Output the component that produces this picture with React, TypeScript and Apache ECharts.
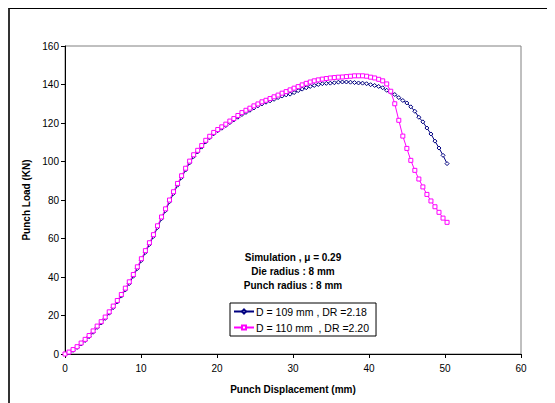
import React, { useEffect, useRef } from "react";
import * as echarts from "echarts";

const xValues = [
  0.0, 0.53, 1.06, 1.59, 2.12, 2.65, 3.17, 3.7, 4.23, 4.76, 5.29, 5.82, 6.35, 6.88, 7.41, 7.94,
  8.46, 8.99, 9.52, 10.05, 10.58, 11.11, 11.64, 12.17, 12.7, 13.23, 13.75, 14.28, 14.81, 15.34,
  15.87, 16.4, 16.93, 17.46, 17.99, 18.52, 19.04, 19.57, 20.1, 20.63, 21.16, 21.69, 22.22, 22.75,
  23.28, 23.81, 24.33, 24.86, 25.39, 25.92, 26.45, 26.98, 27.51, 28.04, 28.57, 29.1, 29.62, 30.15,
  30.68, 31.21, 31.74, 32.27, 32.8, 33.33, 33.86, 34.39, 34.91, 35.44, 35.97, 36.5, 37.03, 37.56,
  38.09, 38.62, 39.15, 39.68, 40.21, 40.74, 41.27, 41.8, 42.33, 42.86, 43.39, 43.92, 44.45, 44.98,
  45.5, 46.03, 46.56, 47.09, 47.62, 48.15, 48.68, 49.21, 49.74, 50.27,
];

const load109 = [
  0, 0.6, 1.9, 3.4, 5.2, 7.0, 9.0, 11.3, 13.8, 16.1, 18.5, 21.2, 24.1, 27.0, 30.1, 33.3, 36.6,
  40.4, 44.4, 48.6, 52.8, 56.9, 61.1, 65.7, 70.3, 74.5, 79.1, 83.4, 87.7, 91.7, 95.6, 99.3, 102.6,
  105.0, 107.5, 110.2, 112.4, 114.4, 116.0, 117.3, 118.7, 120.2, 121.6, 123.0, 124.4, 125.5, 126.6,
  127.8, 128.9, 129.9, 130.8, 131.5, 132.3, 133.2, 134.0, 134.6, 135.0, 135.8, 136.8, 137.6, 138.3,
  139.0, 139.5, 140.0, 140.4, 140.6, 140.7, 140.9, 141.2, 141.3, 141.3, 141.2, 141.0, 140.8, 140.7,
  140.4, 139.9, 139.5, 139.0, 138.3, 137.0, 136.0, 134.8, 133.2, 131.7, 130.4, 128.4, 126.1, 123.0,
  120.6, 117.4, 114.3, 110.6, 107.0, 103.2, 98.9,
];

const load110 = [
  0, 1.0, 2.3, 3.8, 5.7, 7.6, 9.6, 12.0, 14.5, 16.8, 19.2, 21.9, 24.9, 27.8, 30.9, 34.2, 37.5,
  41.3, 45.3, 49.5, 53.7, 57.8, 62.0, 66.6, 71.2, 75.4, 80.0, 84.3, 88.6, 92.6, 96.5, 100.2, 103.5,
  105.8, 108.3, 111.0, 113.1, 115.1, 116.6, 118.0, 119.4, 121.0, 122.3, 123.9, 125.4, 126.6, 127.7,
  128.9, 129.9, 131.0, 131.8, 132.7, 133.6, 134.5, 135.5, 136.3, 137.2, 138.1, 138.9, 139.8, 140.6,
  141.3, 141.9, 142.4, 142.8, 143.1, 143.4, 143.6, 143.8, 143.9, 144.1, 144.3, 144.5, 144.5, 144.5,
  144.3, 143.8, 143.4, 142.7, 141.9, 140.3, 136.5, 130.0, 121.4, 113.2, 106.8, 100.6, 95.4, 90.9,
  86.8, 82.9, 79.5, 76.5, 73.6, 70.6, 68.4,
];

const seriesNames = ["D = 109 mm , DR =2.18", "D = 110 mm  , DR =2.20"];
const annotationLines = ["Simulation , μ = 0.29", "Die radius : 8 mm", "Punch radius : 8 mm"];

const FONT = "'Liberation Sans', Arial, sans-serif";

export default function App() {
  const ref = useRef<HTMLDivElement>(null);

  useEffect(() => {
    if (!ref.current) return;
    const chart = echarts.init(ref.current, null, { renderer: "svg" });
    const s1 = xValues.map((x, i) => [x, load109[i]]);
    const s2 = xValues.map((x, i) => [x, load110[i]]);
    chart.setOption({
      animation: false,
      backgroundColor: "#ffffff",
      textStyle: { fontFamily: FONT },
      grid: {
        left: 57,
        top: 38,
        width: 456,
        height: 308,
        show: true,
        borderColor: "#808080",
        borderWidth: 1,
        backgroundColor: "transparent",
      },
      xAxis: {
        type: "value",
        min: 0,
        max: 60,
        interval: 10,
        name: "Punch Displacement (mm)",
        nameLocation: "middle",
        nameGap: 30,
        nameTextStyle: { fontWeight: "bold", fontSize: 10, color: "#000", fontFamily: FONT },
        axisLine: { onZero: false, lineStyle: { color: "#000", width: 1 } },
        axisTick: { show: true, length: 4, inside: false, lineStyle: { color: "#000" } },
        axisLabel: { fontSize: 10, color: "#000", margin: 9, fontFamily: FONT },
        splitLine: { show: false },
      },
      yAxis: {
        type: "value",
        min: 0,
        max: 160,
        interval: 20,
        name: "Punch Load (KN)",
        nameLocation: "middle",
        nameGap: 31,
        nameTextStyle: { fontWeight: "bold", fontSize: 10, color: "#000", fontFamily: FONT },
        axisLine: { show: true, onZero: false, lineStyle: { color: "#000", width: 1 } },
        axisTick: { show: true, length: 4, inside: false, lineStyle: { color: "#000" } },
        axisLabel: { fontSize: 10, color: "#000", margin: 6, fontFamily: FONT },
        splitLine: { show: false },
      },
      legend: {
        show: true,
        orient: "vertical",
        left: 222,
        top: 295,
        backgroundColor: "#fff",
        borderColor: "#000",
        borderWidth: 1,
        borderRadius: 0,
        padding: [3, 7, 3, 3],
        itemGap: 5,
        itemWidth: 20,
        itemHeight: 5,
        textStyle: { fontSize: 10.5, color: "#000", fontFamily: FONT, padding: [0, 0, 0, -3] },
        data: seriesNames,
      },
      graphic: annotationLines.map((t, i) => ({
        type: "text",
        style: {
          text: t,
          x: 285,
          y: 249 + i * 14,
          textAlign: "center",
          textVerticalAlign: "middle",
          fontSize: 10,
          fontWeight: "bold",
          fontFamily: FONT,
          fill: "#000",
        },
      })),
      series: [
        {
          name: seriesNames[0],
          type: "line",
          data: s1,
          symbol: "diamond",
          symbolSize: 4,
          showAllSymbol: true,
          lineStyle: { color: "#000080", width: 1 },
          itemStyle: { color: "#ffffff", borderColor: "#000080", borderWidth: 1 },
          color: "#000080",
          z: 2,
        },
        {
          name: seriesNames[1],
          type: "line",
          data: s2,
          symbol: "rect",
          symbolSize: 4,
          showAllSymbol: true,
          lineStyle: { color: "#ff00ff", width: 1 },
          itemStyle: { color: "#ffffff", borderColor: "#ff00ff", borderWidth: 1 },
          color: "#ff00ff",
          z: 3,
        },
      ],
    });
    return () => chart.dispose();
  }, []);

  return (
    <div style={{ position: "relative", width: 547, height: 395 }}>
      <div ref={ref} style={{ position: "absolute", left: 0, top: 0, width: 547, height: 395 }} />
      <div
        style={{
          position: "absolute",
          left: 0,
          top: 0,
          width: 547,
          height: 395,
          borderTop: "1px solid #000",
          borderLeft: "2px solid #333",
          boxSizing: "border-box",
          pointerEvents: "none",
        }}
      />
    </div>
  );
}
